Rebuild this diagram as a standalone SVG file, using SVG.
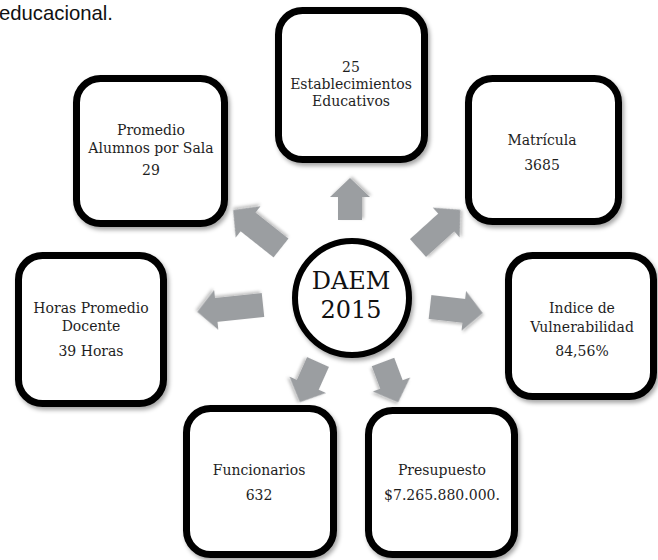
<svg xmlns="http://www.w3.org/2000/svg" width="658" height="560" viewBox="0 0 658 560">
<defs>
<filter id="sh" x="-20%" y="-20%" width="140%" height="140%">
<feDropShadow dx="2" dy="3" stdDeviation="2" flood-color="#000" flood-opacity="0.35"/>
</filter>
<filter id="ash" x="-30%" y="-30%" width="160%" height="160%">
<feDropShadow dx="1.5" dy="2" stdDeviation="1.5" flood-color="#000" flood-opacity="0.25"/>
</filter>
</defs>
<style>
.box{fill:#fff;stroke:#000;stroke-width:7;filter:url(#sh)}
.t{font-family:"DejaVu Serif","Liberation Serif",serif;font-size:14px;fill:#1e1e1e;text-anchor:middle}
.big{font-family:"DejaVu Serif","Liberation Serif",serif;font-size:24px;fill:#111;text-anchor:middle}
.arr{fill:#9b9ea1;filter:url(#ash)}
</style>
<rect width="658" height="560" fill="#fff"/>
<text x="-1" y="20" font-family="Liberation Sans, Arial, sans-serif" font-size="21" fill="#111" textLength="114" lengthAdjust="spacingAndGlyphs">educacional.</text>

<g id="connectors">
<path class="arr" transform="translate(350,220) rotate(-90)" d="M0,-12 H23 V-20 L42,0 L23,20 V12 H0Z"/>
<path class="arr" transform="translate(281,248) rotate(218.4)" d="M0,-12 H42 V-20 L61,0 L42,20 V12 H0Z"/>
<path class="arr" transform="translate(418,248) rotate(-42.1)" d="M0,-12 H38 V-20 L57,0 L38,20 V12 H0Z"/>
<path class="arr" transform="translate(263,305) rotate(174)" d="M0,-12 H47 V-20 L66,0 L47,20 V12 H0Z"/>
<path class="arr" transform="translate(430,307) rotate(6.5)" d="M0,-12 H34 V-20 L53,0 L34,20 V12 H0Z"/>
<path class="arr" transform="translate(318,362) rotate(114.2)" d="M0,-12 H25 V-20 L44,0 L25,20 V12 H0Z"/>
<path class="arr" transform="translate(383,362) rotate(69.4)" d="M0,-12 H24 V-20 L43,0 L24,20 V12 H0Z"/>
</g>

<g id="center">
<circle cx="352" cy="298" r="57" fill="#fff" stroke="#000" stroke-width="6" filter="url(#sh)"/>
<text class="big" x="351" y="289">DAEM</text>
<text class="big" x="351" y="318">2015</text>
</g>

<g id="establecimientos">
<rect class="box" x="278.5" y="10.5" width="146" height="149" rx="24"/>
<text class="t" x="351" y="72">25</text>
<text class="t" x="351" y="89">Establecimientos</text>
<text class="t" x="351" y="106">Educativos</text>
</g>

<g id="promedio">
<rect class="box" x="76.5" y="78.5" width="148" height="145" rx="24"/>
<text class="t" x="151" y="135">Promedio</text>
<text class="t" x="151" y="153">Alumnos por Sala</text>
<text class="t" x="151" y="175">29</text>
</g>

<g id="matricula">
<rect class="box" x="468.5" y="78.5" width="150" height="143" rx="24"/>
<text class="t" x="542" y="145">Matrícula</text>
<text class="t" x="542" y="170">3685</text>
</g>

<g id="indice">
<rect class="box" x="508.5" y="255.5" width="145" height="141" rx="24"/>
<text class="t" x="582" y="313">Indice de</text>
<text class="t" x="582" y="332">Vulnerabilidad</text>
<text class="t" x="582" y="356">84,56%</text>
</g>

<g id="horas">
<rect class="box" x="18.5" y="255.5" width="145" height="148" rx="24"/>
<text class="t" x="91" y="313">Horas Promedio</text>
<text class="t" x="91" y="331">Docente</text>
<text class="t" x="91" y="356">39 Horas</text>
</g>

<g id="funcionarios">
<rect class="box" x="186.5" y="408.5" width="147" height="146" rx="24"/>
<text class="t" x="259" y="475">Funcionarios</text>
<text class="t" x="259" y="500">632</text>
</g>

<g id="presupuesto">
<rect class="box" x="368.5" y="410.5" width="146" height="144" rx="24"/>
<text class="t" x="442" y="475">Presupuesto</text>
<text class="t" x="442" y="500">$7.265.880.000.</text>
</g>
</svg>
